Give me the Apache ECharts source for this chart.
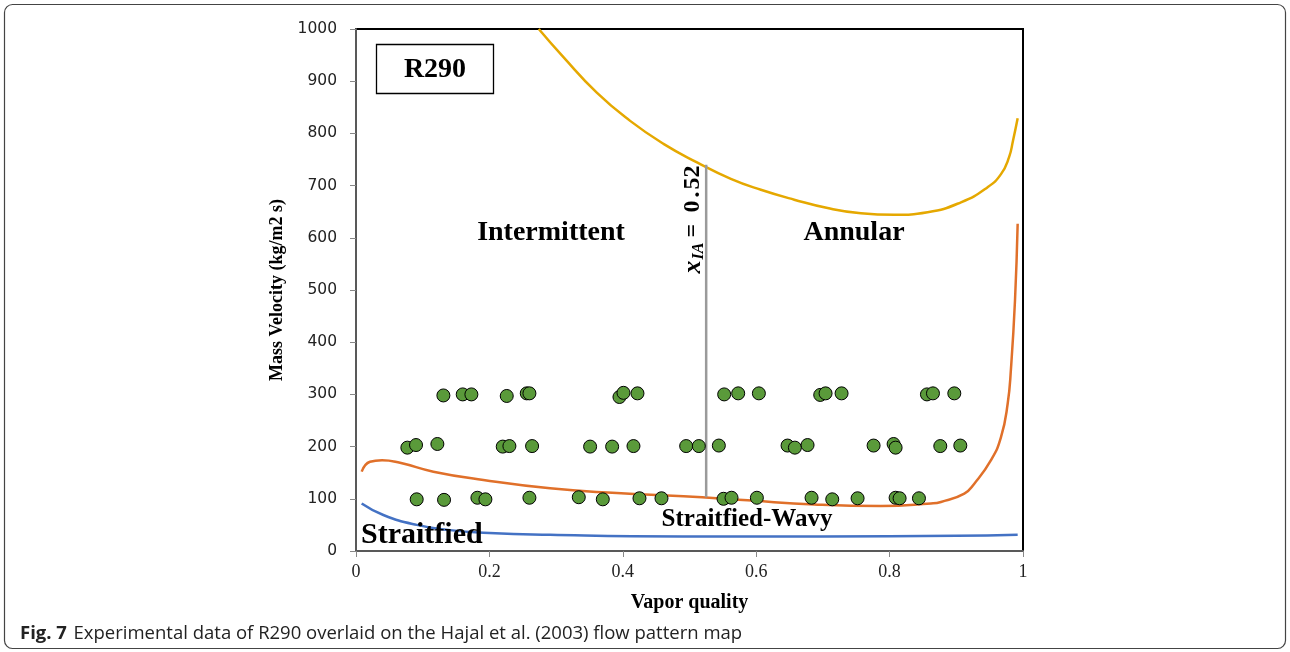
<!DOCTYPE html>
<html><head><meta charset="utf-8">
<script src="https://cdn.jsdelivr.net/npm/echarts@6/dist/echarts.min.js"></script>
<style>html,body{margin:0;padding:0;background:#fff}#c{width:1290px;height:652px}</style>
</head><body><div id="c"></div>
<script>
// Experimental points (vapor quality, mass velocity kg/m2 s)
const expQuality = [
  0.131,0.160,0.173,0.226,0.256,0.260,0.395,0.401,0.422,0.552,0.573,0.604,0.696,0.704,0.728,0.856,0.865,0.897,
  0.077,0.090,0.122,0.220,0.230,0.264,0.351,0.384,0.416,0.495,0.514,0.544,0.647,0.658,0.677,0.776,0.806,0.809,0.876,0.906,
  0.091,0.132,0.182,0.194,0.260,0.334,0.370,0.425,0.458,0.551,0.563,0.601,0.683,0.714,0.752,0.809,0.815,0.844
];
const expMassVelocity = [
  298,300,300,297,302,302,295,303,302,300,302,302,299,302,302,300,302,302,
  198,203,205,200,201,201,200,200,201,201,201,202,202,198,203,202,205,198,201,202,
  99,98,102,99,102,103,99,101,101,100,102,102,102,99,101,102,101,101
];
// Upper transition curve (yellow)
const upperX = [0.274,0.311,0.361,0.411,0.461,0.512,0.562,0.607,0.657,0.707,0.757,0.807,0.857,0.907,0.947,0.967,0.979,0.985,0.992];
const upperY = [1000,946,878,824,780,744,713,692,673,657,647,644,649,668,697,722,754,786,829];
// Stratified-wavy boundary (orange)
const wavyX = [0.0085,0.021,0.039,0.066,0.116,0.191,0.291,0.391,0.491,0.587,0.687,0.787,0.862,0.877,0.912,0.927,0.952,0.967,0.977,0.982,0.988,0.992];
const wavyY = [152,171,174,169,152,136,120,111,105,97,89,86,91,94,110,129,174,218,282,350,480,627];
// Stratified boundary (blue)
const stratX = [0.0085,0.041,0.091,0.141,0.191,0.291,0.49,0.7,0.9,0.992];
const stratY = [91,69,50,40,35,31,28,28,29,31];
// Intermittent/annular transition
const xIA = 0.525;
const xIAspan = [103, 740];
const xTickLabels = ['0','0.2','0.4','0.6','0.8','1'];

const zip = (a,b) => a.map((v,i)=>[v,b[i]]);
const chart = echarts.init(document.getElementById('c'));
const serif = "'Liberation Serif','Times New Roman',serif";
const axisColor = '#595959';

chart.setOption({
  animation: false,
  backgroundColor: '#fff',
  grid: {left:356, right:267, top:29, bottom:101, show:true, borderColor:'#000', borderWidth:2, outerBoundsMode:'none', containLabel:false},
  xAxis: {
    type:'value', min:0, max:1, interval:0.2,
    name:'Vapor quality', nameLocation:'middle', nameGap:42,
    nameTextStyle:{fontFamily:serif, fontWeight:'bold', fontSize:20, color:'#000'},
    axisLine:{show:true, lineStyle:{color:axisColor, width:2}},
    axisTick:{show:true, length:6, lineStyle:{color:'#888'}},
    splitLine:{show:false},
    axisLabel:{fontFamily:serif, fontSize:18, color:'#222', margin:12,
      formatter:(v)=>xTickLabels[Math.round(v/0.2)]}
  },
  yAxis: {
    type:'value', min:0, max:1000, interval:100,
    name:'Mass Velocity (kg/m2 s)', nameLocation:'middle', nameGap:53, nameRotate:90,
    nameTextStyle:{fontFamily:serif, fontWeight:'bold', fontSize:18, color:'#000'},
    axisLine:{show:true, lineStyle:{color:axisColor, width:2}},
    axisTick:{show:true, length:6, lineStyle:{color:'#888'}},
    splitLine:{show:false},
    axisLabel:{fontFamily:"'DejaVu Sans',sans-serif", fontSize:15.5, color:'#222', margin:19,
      formatter:(v)=>String(Math.round(v))}
  },
  series: [
    {type:'line', data:zip(upperX,upperY), smooth:0.5, showSymbol:false, lineStyle:{color:'#E5A800', width:2.5}, z:2},
    {type:'line', data:zip(wavyX,wavyY), smooth:0.5, showSymbol:false, lineStyle:{color:'#E0702A', width:2.5}, z:2},
    {type:'line', data:zip(stratX,stratY), smooth:0.5, showSymbol:false, lineStyle:{color:'#4472C4', width:2.5}, z:2},
    {type:'line', data:[[xIA,xIAspan[0]],[xIA,xIAspan[1]]], showSymbol:false, lineStyle:{color:'#9a9a9a', width:2.5}, z:2},
    {type:'scatter', data:zip(expQuality,expMassVelocity), symbolSize:13,
      itemStyle:{color:'#5A9A3A', borderColor:'#000', borderWidth:1, opacity:1}, z:5}
  ],
  graphic: [
    {type:'rect', shape:{x:4.5, y:4.5, width:1281, height:644, r:8}, style:{fill:'none', stroke:'#444', lineWidth:1.2}, silent:true},
    {type:'rect', shape:{x:376.5, y:44.5, width:117, height:49}, style:{fill:'#fff', stroke:'#000', lineWidth:1.3}, z:10},
    {type:'text', x:435, y:70, style:{text:'R290', font:"bold 28px "+serif, fill:'#000', textAlign:'center', textVerticalAlign:'middle'}, z:11},
    {type:'text', x:551, y:233, style:{text:'Intermittent', font:"bold 28px "+serif, fill:'#000', textAlign:'center', textVerticalAlign:'middle'}, z:11},
    {type:'text', x:854, y:233, style:{text:'Annular', font:"bold 28px "+serif, fill:'#000', textAlign:'center', textVerticalAlign:'middle'}, z:11},
    {type:'text', x:361, y:535, style:{text:'Straitfied', font:"bold 30px "+serif, fill:'#000', textAlign:'left', textVerticalAlign:'middle'}, z:11},
    {type:'text', x:747, y:520, style:{text:'Straitfied-Wavy', font:"bold 25px "+serif, fill:'#000', textAlign:'center', textVerticalAlign:'middle'}, z:11},
    {type:'group', x:693, y:216.5, rotation:Math.PI/2, z:11, children:[
      {type:'text', x:-57, y:0, style:{text:'x', font:"italic bold 26px "+serif, fill:'#000', textAlign:'left', textVerticalAlign:'middle'}},
      {type:'text', x:-43, y:6, style:{text:'IA', font:"italic bold 16px "+serif, fill:'#000', textAlign:'left', textVerticalAlign:'middle'}},
      {type:'text', x:-21, y:0, style:{text:'=', font:"bold 24px "+serif, fill:'#000', textAlign:'left', textVerticalAlign:'middle'}},
      {type:'text', x:4, y:0, style:{text:'0', font:"bold 24px "+serif, fill:'#000', textAlign:'left', textVerticalAlign:'middle'}},
      {type:'text', x:19, y:0, style:{text:'.', font:"bold 24px "+serif, fill:'#000', textAlign:'left', textVerticalAlign:'middle'}},
      {type:'text', x:27, y:0, style:{text:'52', font:"bold 24px "+serif, fill:'#000', textAlign:'left', textVerticalAlign:'middle'}}
    ]},
    {type:'text', x:20, y:634, style:{
      text:'{b|Fig. 7}  {r|Experimental data of R290 overlaid on the Hajal et al. (2003) flow pattern map}',
      textVerticalAlign:'middle',
      rich:{b:{fontFamily:"'Open Sans',sans-serif", fontWeight:'bold', fontSize:18.5, fill:'#222', color:'#222'},
            r:{fontFamily:"'Open Sans',sans-serif", fontSize:18.5, fill:'#222', color:'#222'}}
    }, z:11}
  ]
});
</script></body></html>
